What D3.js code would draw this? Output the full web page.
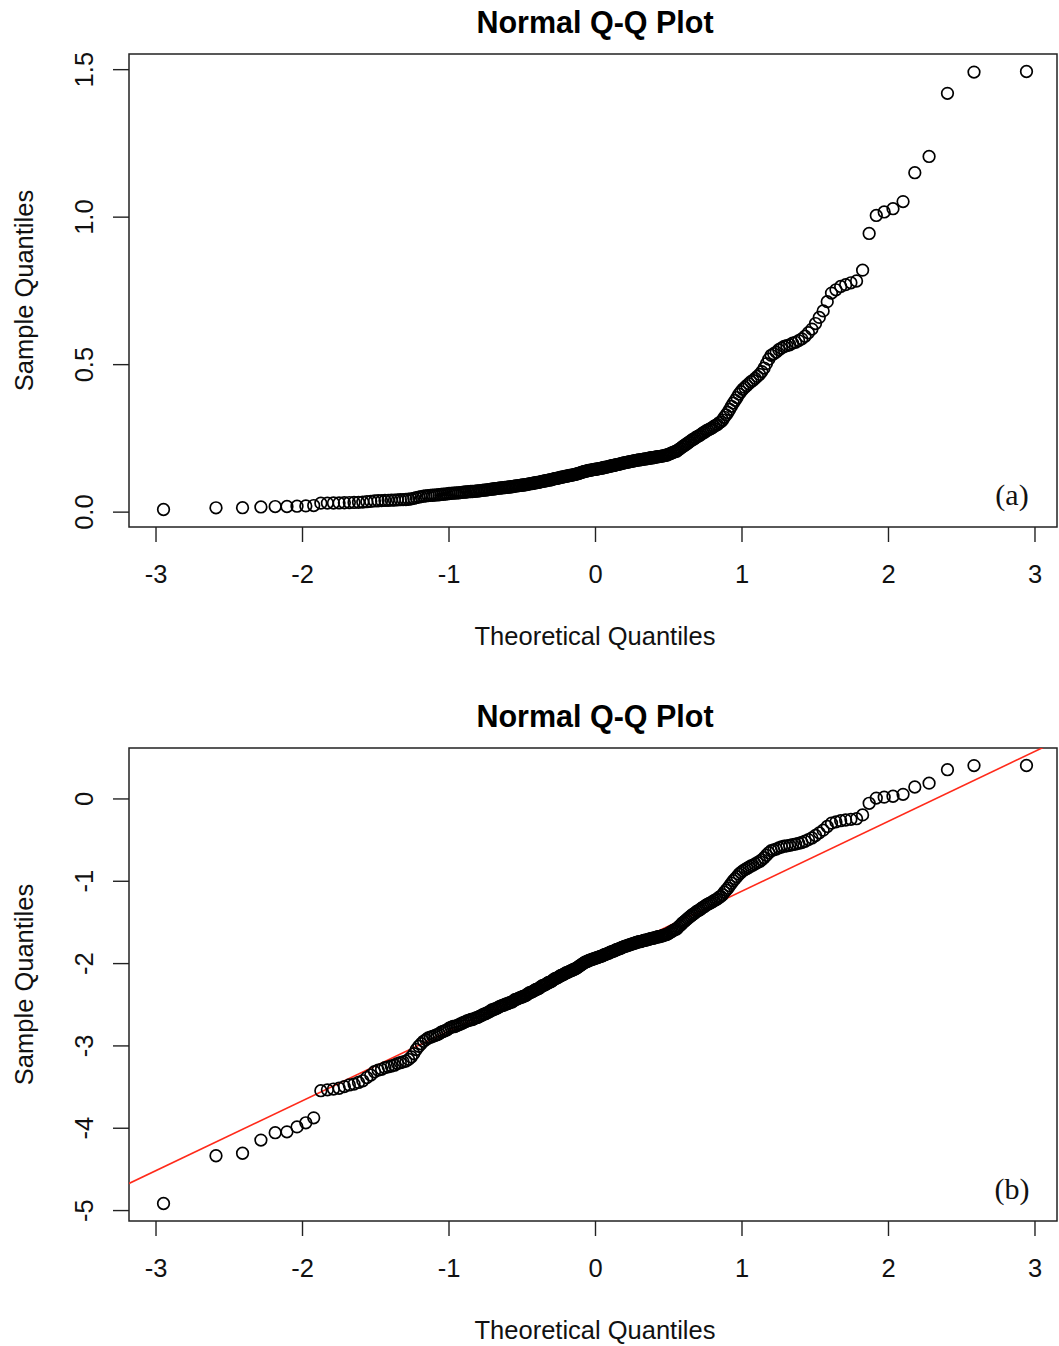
<!DOCTYPE html>
<html>
<head>
<meta charset="utf-8">
<script src="https://cdn.jsdelivr.net/npm/d3@7"></script>
<style>
  body { margin: 0; background: #fff; }
  svg { display: block; }
</style>
</head>
<body>
<div id="qq-plots"></div>
<script>
// Sorted sample values, raw scale
var sampleA = [
  0.0073, 0.0130, 0.0134, 0.0158, 0.0172, 0.0174, 0.0185, 0.0194, 0.0207, 0.0287,
  0.0290, 0.0293, 0.0296, 0.0302, 0.0308, 0.0311, 0.0317, 0.0324, 0.0337, 0.0347,
  0.0362, 0.0369, 0.0373, 0.0380, 0.0384, 0.0388, 0.0392, 0.0400, 0.0404, 0.0408,
  0.0412, 0.0420, 0.0433, 0.0450, 0.0474, 0.0493, 0.0508, 0.0523, 0.0534, 0.0545,
  0.0550, 0.0556, 0.0561, 0.0567, 0.0573, 0.0584, 0.0590, 0.0596, 0.0602, 0.0614,
  0.0620, 0.0627, 0.0627, 0.0633, 0.0639, 0.0646, 0.0652, 0.0659, 0.0665, 0.0672,
  0.0676, 0.0682, 0.0682, 0.0689, 0.0696, 0.0699, 0.0707, 0.0714, 0.0721, 0.0728,
  0.0732, 0.0739, 0.0746, 0.0754, 0.0765, 0.0768, 0.0775, 0.0779, 0.0787, 0.0795,
  0.0803, 0.0807, 0.0811, 0.0819, 0.0823, 0.0827, 0.0836, 0.0840, 0.0844, 0.0853,
  0.0867, 0.0872, 0.0876, 0.0885, 0.0889, 0.0894, 0.0903, 0.0907, 0.0912, 0.0921,
  0.0935, 0.0944, 0.0949, 0.0954, 0.0963, 0.0973, 0.0983, 0.0988, 0.0993, 0.1003,
  0.1018, 0.1028, 0.1033, 0.1038, 0.1049, 0.1059, 0.1070, 0.1075, 0.1081, 0.1092,
  0.1108, 0.1119, 0.1125, 0.1130, 0.1142, 0.1153, 0.1165, 0.1171, 0.1177, 0.1188,
  0.1200, 0.1206, 0.1212, 0.1225, 0.1231, 0.1237, 0.1249, 0.1256, 0.1262, 0.1275,
  0.1287, 0.1300, 0.1313, 0.1327, 0.1340, 0.1353, 0.1367, 0.1374, 0.1381, 0.1395,
  0.1402, 0.1409, 0.1416, 0.1423, 0.1430, 0.1437, 0.1444, 0.1451, 0.1459, 0.1466,
  0.1473, 0.1481, 0.1496, 0.1503, 0.1511, 0.1518, 0.1526, 0.1541, 0.1549, 0.1557,
  0.1565, 0.1572, 0.1588, 0.1596, 0.1604, 0.1612, 0.1620, 0.1637, 0.1645, 0.1653,
  0.1661, 0.1670, 0.1678, 0.1686, 0.1695, 0.1703, 0.1712, 0.1720, 0.1729, 0.1738,
  0.1746, 0.1755, 0.1755, 0.1764, 0.1773, 0.1782, 0.1791, 0.1791, 0.1799, 0.1809,
  0.1818, 0.1827, 0.1827, 0.1836, 0.1845, 0.1854, 0.1864, 0.1864, 0.1873, 0.1882,
  0.1892, 0.1901, 0.1911, 0.1920, 0.1940, 0.1959, 0.1979, 0.1999, 0.2019, 0.2039,
  0.2047, 0.2089, 0.2120, 0.2152, 0.2196, 0.2227, 0.2260, 0.2295, 0.2329, 0.2365,
  0.2400, 0.2437, 0.2461, 0.2498, 0.2536, 0.2561, 0.2587, 0.2627, 0.2667, 0.2693,
  0.2736, 0.2764, 0.2791, 0.2819, 0.2848, 0.2894, 0.2923, 0.2952, 0.3012, 0.3042,
  0.3104, 0.3198, 0.3279, 0.3362, 0.3465, 0.3570, 0.3679, 0.3772, 0.3867, 0.3985,
  0.4066, 0.4148, 0.4211, 0.4274, 0.4339, 0.4404, 0.4449, 0.4516, 0.4584, 0.4653,
  0.4747, 0.4868, 0.5016, 0.5169, 0.5299, 0.5353, 0.5406, 0.5488, 0.5543, 0.5599,
  0.5627, 0.5655, 0.5712, 0.5741, 0.5798, 0.5857, 0.5945, 0.6065, 0.6188, 0.6376,
  0.6584, 0.6805, 0.7118, 0.7408, 0.7520, 0.7634, 0.7695, 0.7757, 0.7819, 0.8187,
  0.943, 1.004, 1.016, 1.027, 1.051, 1.149, 1.204, 1.418, 1.490, 1.492
];

// Sorted sample values, log scale
var sampleB = [
  -4.92, -4.34, -4.31, -4.15, -4.06, -4.05, -3.99, -3.94, -3.88, -3.55,
  -3.54, -3.53, -3.52, -3.50, -3.48, -3.47, -3.45, -3.43, -3.39, -3.36,
  -3.32, -3.30, -3.29, -3.27, -3.26, -3.25, -3.24, -3.22, -3.21, -3.20,
  -3.19, -3.17, -3.14, -3.10, -3.05, -3.01, -2.98, -2.95, -2.93, -2.91,
  -2.90, -2.89, -2.88, -2.87, -2.86, -2.84, -2.83, -2.82, -2.81, -2.79,
  -2.78, -2.77, -2.77, -2.76, -2.75, -2.74, -2.73, -2.72, -2.71, -2.70,
  -2.695, -2.685, -2.685, -2.675, -2.665, -2.66, -2.65, -2.64, -2.63, -2.62,
  -2.615, -2.605, -2.595, -2.585, -2.57, -2.567, -2.557, -2.552, -2.542, -2.532,
  -2.522, -2.517, -2.512, -2.502, -2.497, -2.492, -2.482, -2.477, -2.472, -2.462,
  -2.445, -2.44, -2.435, -2.425, -2.42, -2.415, -2.405, -2.40, -2.395, -2.385,
  -2.37, -2.36, -2.355, -2.35, -2.34, -2.33, -2.32, -2.315, -2.31, -2.30,
  -2.285, -2.275, -2.27, -2.265, -2.255, -2.245, -2.235, -2.23, -2.225, -2.215,
  -2.20, -2.19, -2.185, -2.18, -2.17, -2.16, -2.15, -2.145, -2.14, -2.13,
  -2.12, -2.115, -2.11, -2.10, -2.095, -2.09, -2.08, -2.075, -2.07, -2.06,
  -2.05, -2.04, -2.03, -2.02, -2.01, -2.00, -1.99, -1.985, -1.98, -1.97,
  -1.965, -1.96, -1.955, -1.95, -1.945, -1.94, -1.935, -1.93, -1.925, -1.92,
  -1.915, -1.91, -1.90, -1.895, -1.89, -1.885, -1.88, -1.87, -1.865, -1.86,
  -1.855, -1.85, -1.84, -1.835, -1.83, -1.825, -1.82, -1.81, -1.805, -1.80,
  -1.795, -1.79, -1.785, -1.78, -1.775, -1.77, -1.765, -1.76, -1.755, -1.75,
  -1.745, -1.74, -1.74, -1.735, -1.73, -1.725, -1.72, -1.72, -1.715, -1.71,
  -1.705, -1.70, -1.70, -1.695, -1.69, -1.685, -1.68, -1.68, -1.675, -1.67,
  -1.665, -1.66, -1.655, -1.65, -1.64, -1.63, -1.62, -1.61, -1.60, -1.59,
  -1.586, -1.566, -1.551, -1.536, -1.516, -1.502, -1.487, -1.472, -1.457, -1.442,
  -1.427, -1.412, -1.402, -1.387, -1.372, -1.362, -1.352, -1.337, -1.322, -1.312,
  -1.296, -1.286, -1.276, -1.266, -1.256, -1.24, -1.23, -1.22, -1.20, -1.19,
  -1.17, -1.14, -1.115, -1.09, -1.06, -1.03, -1.00, -0.975, -0.95, -0.92,
  -0.90, -0.88, -0.865, -0.85, -0.835, -0.82, -0.81, -0.795, -0.78, -0.765,
  -0.745, -0.72, -0.69, -0.66, -0.635, -0.625, -0.615, -0.60, -0.59, -0.58,
  -0.575, -0.57, -0.56, -0.555, -0.545, -0.535, -0.52, -0.50, -0.48, -0.45,
  -0.418, -0.385, -0.34, -0.30, -0.285, -0.27, -0.262, -0.254, -0.246, -0.20,
  -0.059, 0.004, 0.016, 0.027, 0.050, 0.139, 0.186, 0.349, 0.399, 0.400
];

var xTicks = [-3, -2, -1, 0, 1, 2, 3];
var yTicksA = [0, 0.5, 1, 1.5];
var yTicksB = [-5, -4, -3, -2, -1, 0];
var titles = ["Normal Q-Q Plot", "Normal Q-Q Plot"];
var tags = ["(a)", "(b)"];
var xLabel = "Theoretical Quantiles";
var yLabel = "Sample Quantiles";

var sans = "'Liberation Sans', Arial, Helvetica, sans-serif";
var serif = "'Liberation Serif', 'Times New Roman', serif";

// inverse normal CDF (Acklam), used for the theoretical quantiles like qqnorm()
function qnorm(p) {
    var a = [-3.969683028665376e+01, 2.209460984245205e+02, -2.759285104469687e+02, 1.383577518672690e+02, -3.066479806614716e+01, 2.506628277459239e+00];
    var b = [-5.447609879822406e+01, 1.615858368580409e+02, -1.556989798598866e+02, 6.680131188771972e+01, -1.328068155288572e+01];
    var c = [-7.784894002430293e-03, -3.223964580411365e-01, -2.400758277161838e+00, -2.549732539343734e+00, 4.374664141464968e+00, 2.938163982698783e+00];
    var d = [7.784695709041462e-03, 3.224671290700398e-01, 2.445134137142996e+00, 3.754408661907416e+00];
    var pl = 0.02425, q, r;
    if (p < pl) {
        q = Math.sqrt(-2 * Math.log(p));
        return (((((c[0]*q+c[1])*q+c[2])*q+c[3])*q+c[4])*q+c[5]) / ((((d[0]*q+d[1])*q+d[2])*q+d[3])*q+1);
    }
    if (p > 1 - pl) {
        q = Math.sqrt(-2 * Math.log(1 - p));
        return -(((((c[0]*q+c[1])*q+c[2])*q+c[3])*q+c[4])*q+c[5]) / ((((d[0]*q+d[1])*q+d[2])*q+d[3])*q+1);
    }
    q = p - 0.5; r = q * q;
    return (((((a[0]*r+a[1])*r+a[2])*r+a[3])*r+a[4])*r+a[5])*q / (((((b[0]*r+b[1])*r+b[2])*r+b[3])*r+b[4])*r+1);
}

// R style axis range: data extent plus 4% each side
function padExtent(ext) {
    var d = (ext[1] - ext[0]) * 0.04;
    return [ext[0] - d, ext[1] + d];
}

var width = 1059, height = 1346;

var svg = d3.select("#qq-plots")
    .append("svg")
    .attr("width", width)
    .attr("height", height)
    .style("background", "#fff");

function drawPanel(idx, values, yTicks, yFormat, top, withLine) {
    var left = 129, boxRight = 1057, plotH = 473;
    var n = values.length;

    var points = values.map(function(v, i) {
        return { q: qnorm((i + 0.5) / n), v: v };
    });

    var x = d3.scaleLinear()
        .domain(padExtent(d3.extent(points, function(d) { return d.q; })))
        .range([left, 1061]);

    var y = d3.scaleLinear()
        .domain(padExtent(d3.extent(values)))
        .range([top + plotH, top]);

    var g = svg.append("g");

    g.append("clipPath")
        .attr("id", "clip" + idx)
        .append("rect")
        .attr("x", left)
        .attr("y", top)
        .attr("width", boxRight - left)
        .attr("height", plotH);

    // X axis
    var xAxis = g.append("g")
        .attr("transform", "translate(0," + (top + plotH) + ")")
        .call(d3.axisBottom(x)
            .tickValues(xTicks)
            .tickSize(15)
            .tickPadding(23)
            .tickFormat(function(d) { return String(d); }));
    xAxis.select(".domain").remove();
    xAxis.selectAll(".tick line").attr("stroke", "#222").attr("stroke-width", 1.4);
    xAxis.selectAll(".tick text")
        .style("font-family", sans)
        .style("font-size", "25.5px")
        .attr("fill", "#111");

    // Y axis, labels turned like R's default
    var yAxis = g.append("g")
        .attr("transform", "translate(" + left + ",0)")
        .call(d3.axisLeft(y)
            .tickValues(yTicks)
            .tickSize(16)
            .tickFormat(yFormat));
    yAxis.select(".domain").remove();
    yAxis.selectAll(".tick line").attr("stroke", "#222").attr("stroke-width", 1.4);
    yAxis.selectAll(".tick text")
        .attr("x", null)
        .attr("dy", null)
        .attr("y", -36)
        .attr("transform", "rotate(-90)")
        .attr("text-anchor", "middle")
        .style("font-family", sans)
        .style("font-size", "25.5px")
        .attr("fill", "#111");

    // plot box
    g.append("rect")
        .attr("x", left)
        .attr("y", top)
        .attr("width", boxRight - left)
        .attr("height", plotH)
        .attr("fill", "none")
        .attr("stroke", "#222")
        .attr("stroke-width", 1.5);

    // reference line through the quartiles, like qqline()
    if (withLine) {
        var sorted = values.slice().sort(d3.ascending);
        var y1 = d3.quantile(sorted, 0.25), y2 = d3.quantile(sorted, 0.75);
        var x1 = qnorm(0.25), x2 = qnorm(0.75);
        var slope = (y2 - y1) / (x2 - x1);
        var intercept = y1 - slope * x1;
        var xd = x.domain();
        g.append("line")
            .attr("clip-path", "url(#clip" + idx + ")")
            .attr("x1", x(xd[0]))
            .attr("y1", y(intercept + slope * xd[0]))
            .attr("x2", x(xd[1]))
            .attr("y2", y(intercept + slope * xd[1]))
            .attr("stroke", "#ff2a1a")
            .attr("stroke-width", 1.6);
    }

    g.append("g")
        .selectAll("circle")
        .data(points)
        .enter()
        .append("circle")
        .attr("cx", function(d) { return x(d.q); })
        .attr("cy", function(d) { return y(d.v); })
        .attr("r", 5.8)
        .attr("fill", "none")
        .attr("stroke", "#000")
        .attr("stroke-width", 1.7);

    // title and labels
    g.append("text")
        .attr("x", (left + 1061) / 2)
        .attr("y", top - 21)
        .attr("text-anchor", "middle")
        .style("font-family", sans)
        .style("font-size", "30.5px")
        .style("font-weight", "bold")
        .text(titles[idx]);

    g.append("text")
        .attr("x", (left + 1061) / 2)
        .attr("y", top + plotH + 118)
        .attr("text-anchor", "middle")
        .style("font-family", sans)
        .style("font-size", "25.5px")
        .attr("fill", "#111")
        .text(xLabel);

    g.append("text")
        .attr("transform", "translate(33," + (top + plotH / 2) + ")rotate(-90)")
        .attr("text-anchor", "middle")
        .style("font-family", sans)
        .style("font-size", "25.5px")
        .attr("fill", "#111")
        .text(yLabel);

    g.append("text")
        .attr("x", 1012)
        .attr("y", top + plotH - 22)
        .attr("text-anchor", "middle")
        .style("font-family", serif)
        .style("font-size", "30px")
        .attr("fill", "#111")
        .text(tags[idx]);
}

drawPanel(0, sampleA, yTicksA, d3.format(".1f"), 54, false);
drawPanel(1, sampleB, yTicksB, function(d) { return String(d); }, 748, true);
</script>
</body>
</html>
